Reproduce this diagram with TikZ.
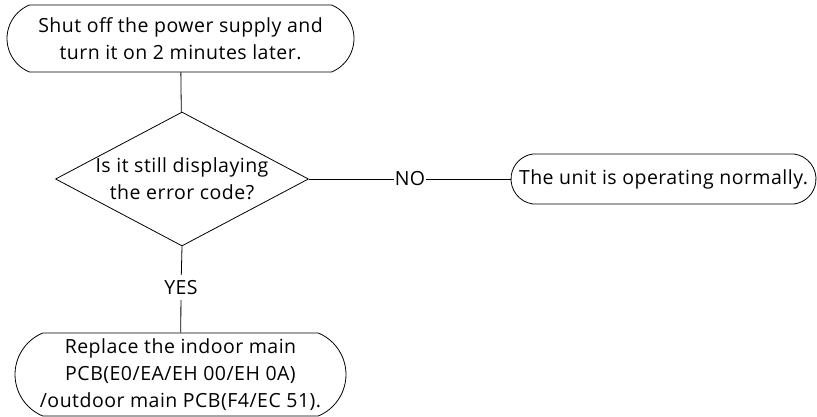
\documentclass[tikz,border=0pt]{standalone}
\usepackage{fontspec}
\setmainfont{Open Sans}[LetterSpace=2.5]
\usetikzlibrary{positioning, shapes.misc, shapes.geometric}

\begin{document}
\begin{tikzpicture}[x=1pt, y=-1pt, font=\fontsize{19.5}{27}\selectfont, align=center, line width=0.8pt]
        % Styles
        \tikzset{
            term/.style={draw, rounded rectangle, inner sep=0pt},
            ask/.style={draw, diamond, inner sep=0pt, minimum width=253pt, minimum height=134pt},
            answer/.style={inner xsep=0.5pt, inner ysep=5pt}
        }
        \useasboundingbox (0,0) rectangle (817,417);

        % Nodes
        \node[term, rounded rectangle arc length=135, minimum width=347pt, minimum height=67pt] (start) at (180.5,38.5) {Shut off the power supply and\\turn it on 2 minutes later.};
        \node[ask] (check) at (182,179) {\makebox[0pt]{Is it still displaying}\\\makebox[0pt]{the error code?}};
        \node[answer] (no) at (410,179) {NO};
        \node[term, rounded rectangle arc length=165, minimum width=305pt, minimum height=50pt] (normal) at (663.5,179) {The unit is operating normally.};
        \node[answer] (yes) at (181,287.5) {YES};
        \node[term, rounded rectangle arc length=135, minimum width=331pt, minimum height=83pt] (replace) at (180.5,374.5) {Replace the indoor main\\PCB(E0/EA/EH 00/EH 0A)\\/outdoor main PCB(F4/EC 51).};

        % Edges
        \draw (start) -- (check);
        \draw (check.east) -- (no) -- (normal);
        \draw (check.south) -- (yes) -- (replace);
    \end{tikzpicture}
\end{document}
